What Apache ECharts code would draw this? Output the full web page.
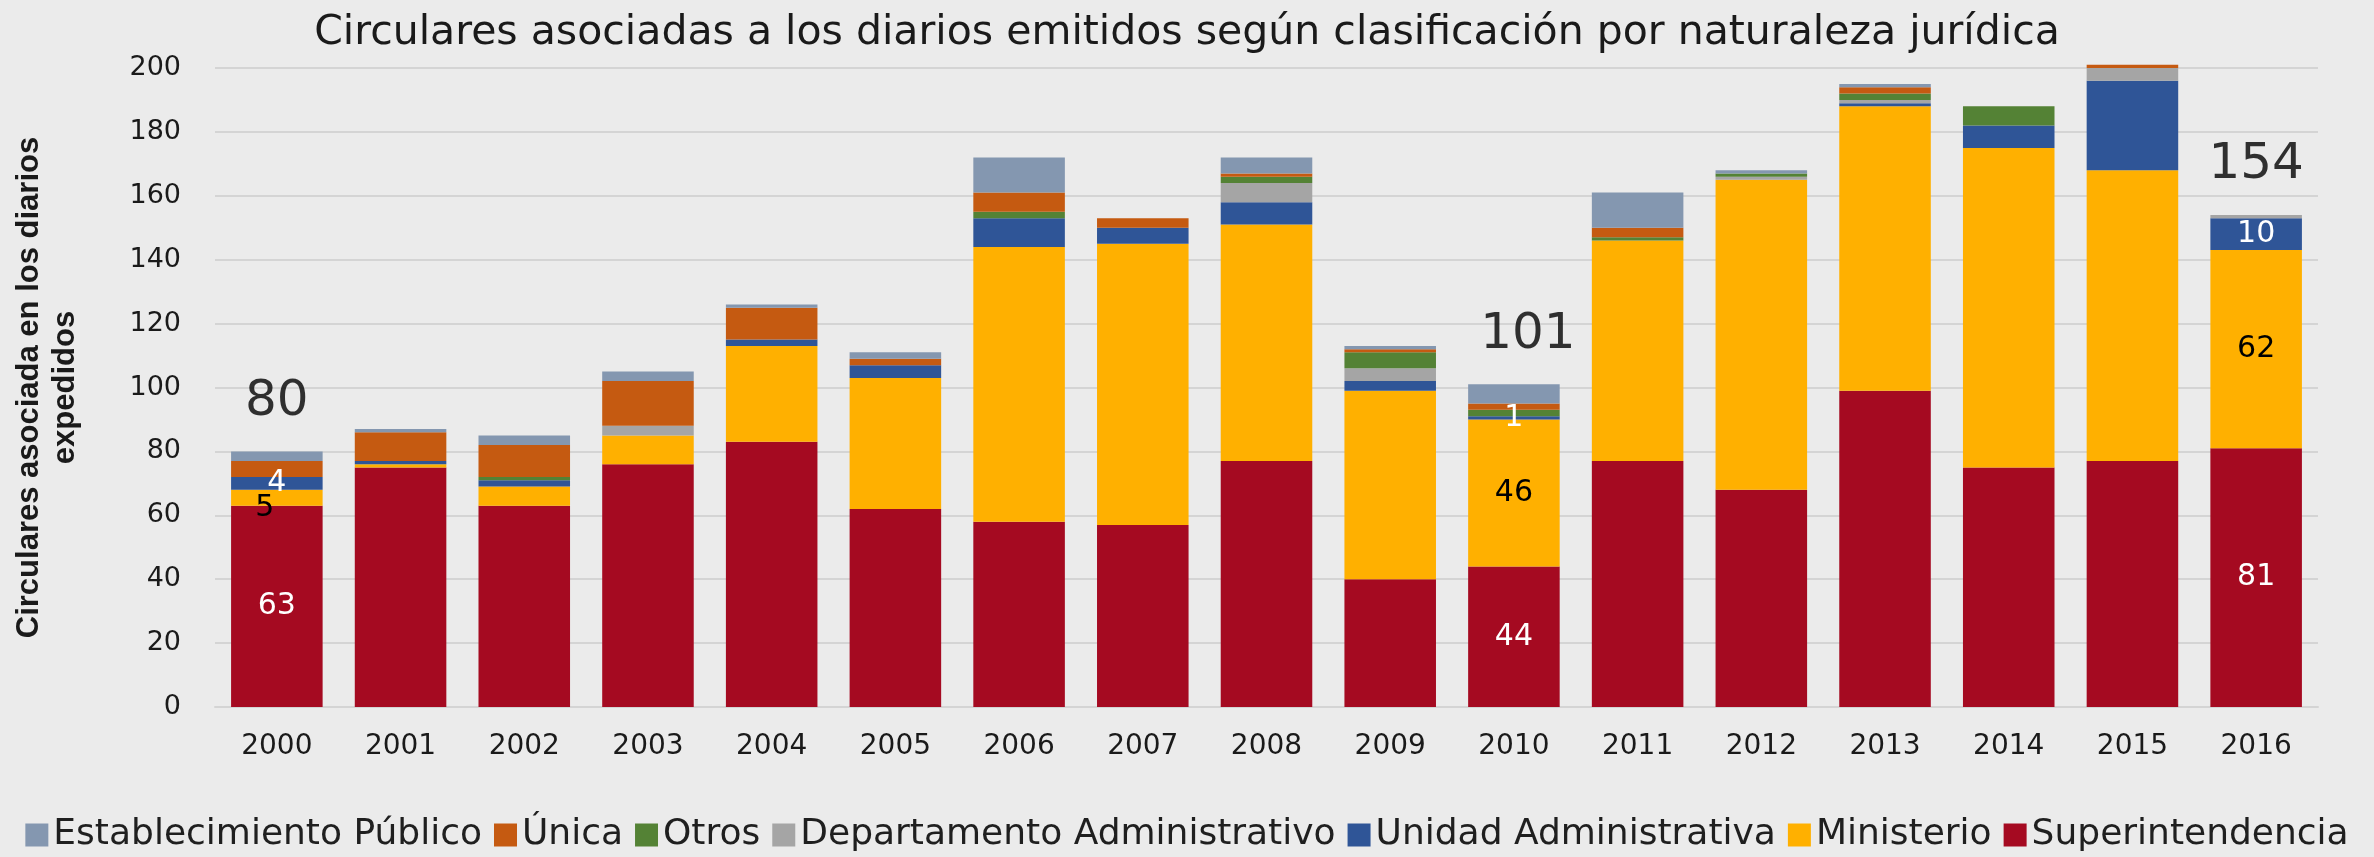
<!DOCTYPE html>
<html>
<head>
<meta charset="utf-8">
<title>Circulares asociadas a los diarios</title>
<script src="https://cdn.jsdelivr.net/npm/echarts@6/dist/echarts.min.js"></script>
<style>
  html, body { margin: 0; padding: 0; background: #ebebeb; }
  #chart { width: 2374px; height: 857px; }
</style>
</head>
<body>
<div id="chart"></div>
<script>
const years = ['2000', '2001', '2002', '2003', '2004', '2005', '2006', '2007', '2008',
  '2009', '2010', '2011', '2012', '2013', '2014', '2015', '2016']

// stacked from the bottom up
const superintendencia = [63, 75, 63, 76, 83, 62, 58, 57, 77, 40, 44, 77, 68, 99, 75, 77, 81]
const ministerio = [5, 1, 6, 9, 30, 41, 86, 88, 74, 59, 46, 69, 97, 89, 100, 91, 62]
const unidadAdministrativa = [4, 1, 2, 0, 2, 4, 9, 5, 7, 3, 1, 0, 0, 1, 7, 28, 10]
const departamentoAdministrativo = [0, 0, 0, 3, 0, 0, 0, 0, 6, 4, 0, 0, 1, 1, 0, 4, 1]
const otros = [0, 0, 1, 0, 0, 0, 2, 0, 2, 5, 2, 1, 1, 2, 6, 0, 0]
const unica = [5, 9, 10, 14, 10, 2, 6, 3, 1, 1, 2, 3, 0, 2, 0, 1, 0]
const establecimientoPublico = [3, 1, 3, 3, 1, 2, 11, 0, 5, 1, 6, 11, 1, 1, 0, 0, 0]

// years whose values are written on the chart
const labelledYears = ['2000', '2010', '2016']

const yTicks = { min: 0, max: 200, interval: 20 }

const FONT = 'DejaVu Sans'
const isLabelled = (i) => labelledYears.indexOf(years[i]) !== -1

const seriesDefs = [
  { name: 'Superintendencia', data: superintendencia, color: '#a50a21', labelColor: '#ffffff' },
  { name: 'Ministerio', data: ministerio, color: '#ffb000', labelColor: '#000000' },
  { name: 'Unidad Administrativa', data: unidadAdministrativa, color: '#2f5597', labelColor: '#ffffff' },
  { name: 'Departamento Administrativo', data: departamentoAdministrativo, color: '#a5a5a5' },
  { name: 'Otros', data: otros, color: '#548235' },
  { name: 'Única', data: unica, color: '#c55a11' },
  { name: 'Establecimiento Público', data: establecimientoPublico, color: '#8497b0' }
]

const barSeries = seriesDefs.map((s) => {
  return {
    name: s.name,
    type: 'bar',
    stack: 'total',
    barCategoryGap: '26%',
    clip: false,
    itemStyle: { color: s.color },
    label: {
      show: !!s.labelColor,
      position: 'inside',
      color: s.labelColor,
      fontFamily: FONT,
      fontSize: 30,
      formatter: (p) => (isLabelled(p.dataIndex) ? String(p.value) : '')
    },
    data: s.data.map((v, i) => {
      // the "5" in 2000 sits a little off its thin segment
      if (s.name === 'Ministerio' && i === 0) {
        return { value: v, label: { offset: [-12, 10] } }
      }
      return v
    })
  }
})

// totals written above the labelled bars
const totals = years.map((y, i) => {
  let sum = 0
  seriesDefs.forEach((s) => { sum += s.data[i] })
  if (!isLabelled(i)) return '-'
  // 2010's total sits slightly right of the bar
  if (y === '2010') return { value: sum, label: { offset: [14, 0] } }
  return sum
})

const chart = echarts.init(document.getElementById('chart'))
chart.setOption({
  backgroundColor: '#ebebeb',
  textStyle: { fontFamily: FONT },
  title: {
    text: 'Circulares asociadas a los diarios emitidos según clasificación por naturaleza jurídica',
    left: 'center',
    top: 8,
    textStyle: { fontFamily: FONT, fontSize: 41, fontWeight: 'normal', color: '#1a1a1a' }
  },
  legend: {
    data: seriesDefs.map((s) => s.name).reverse(),
    left: 'center',
    top: 812,
    icon: 'rect',
    itemWidth: 23,
    itemHeight: 23,
    itemGap: 12,
    textStyle: { fontFamily: FONT, fontSize: 36, color: '#1f1f1f' }
  },
  grid: {
    left: 215,
    right: 56,
    top: 68,
    bottom: 150,
    containLabel: false
  },
  xAxis: {
    type: 'category',
    data: years,
    axisLine: { lineStyle: { color: '#d4d4d4', width: 2 } },
    axisTick: { show: false },
    axisLabel: { color: '#1a1a1a', fontFamily: FONT, fontSize: 28, margin: 26 }
  },
  yAxis: {
    type: 'value',
    min: yTicks.min,
    max: yTicks.max,
    interval: yTicks.interval,
    name: 'Circulares asociada en los diarios\nexpedidos',
    nameLocation: 'middle',
    nameGap: 132,
    nameTextStyle: {
      fontFamily: 'Liberation Sans',
      fontWeight: 'bold',
      fontSize: 31,
      lineHeight: 36,
      color: '#1a1a1a'
    },
    axisLine: { show: false },
    axisTick: { show: false },
    axisLabel: { color: '#1a1a1a', fontFamily: FONT, fontSize: 27, margin: 34 },
    splitLine: { lineStyle: { color: '#d4d4d4', width: 2 } }
  },
  series: barSeries.concat([
    {
      name: 'Total',
      type: 'scatter',
      data: totals,
      symbolSize: 1,
      itemStyle: { color: 'rgba(0,0,0,0)' },
      silent: true,
      z: 10,
      label: {
        show: true,
        position: 'top',
        distance: 24,
        color: '#000000',
        fontFamily: FONT,
        fontSize: 50,
        formatter: (p) => String(p.value)
      }
    }
  ])
})
</script>
</body>
</html>
